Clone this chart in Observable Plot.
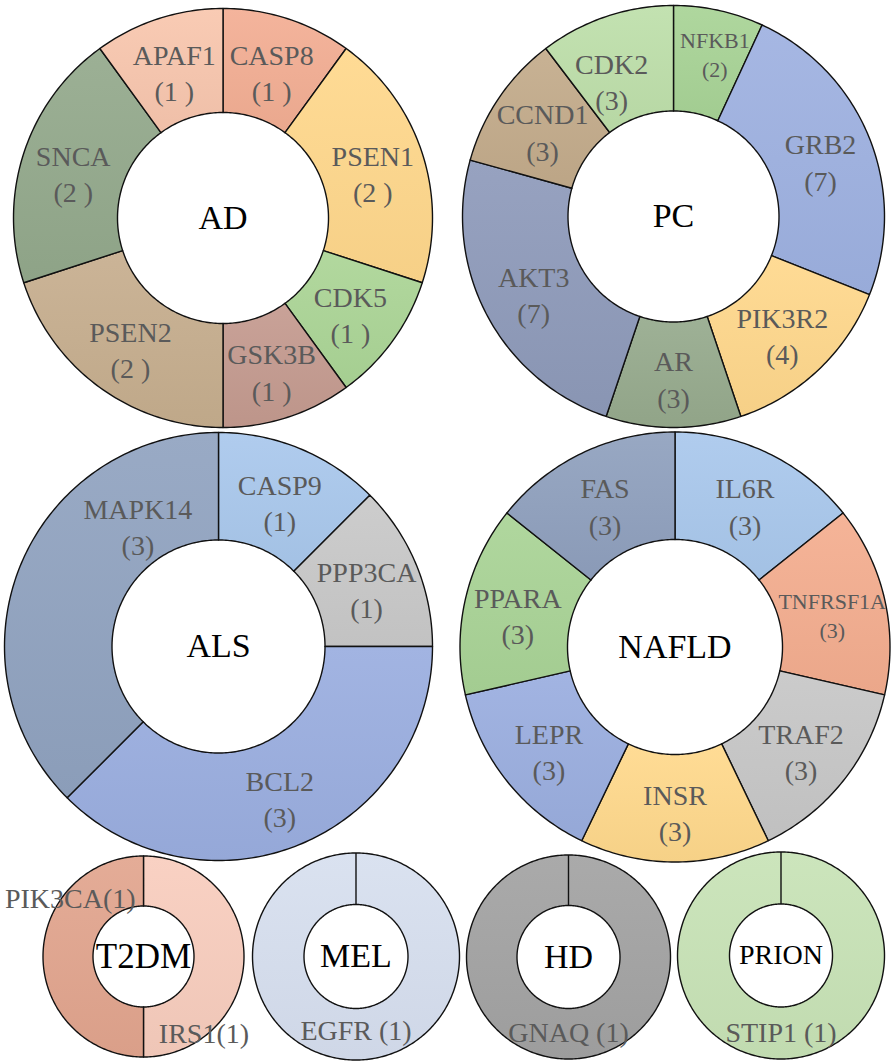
<!DOCTYPE html>
<html><head><meta charset="utf-8">
<script src="https://cdn.jsdelivr.net/npm/d3@7"></script>
<script src="https://cdn.jsdelivr.net/npm/@observablehq/plot@0.6"></script>
<style>
html,body{margin:0;padding:0;background:#fff;overflow:hidden;}
svg text{font-family:"Liberation Serif","Times New Roman","DejaVu Serif",serif !important;}
</style>
</head><body><div id="chart"></div>
<script>
// ---------- data ----------
const groups = ["AD", "PC", "ALS", "NAFLD", "T2DM", "MEL", "HD", "PRION"];
const adGenes = ["CASP8", "PSEN1", "CDK5", "GSK3B", "PSEN2", "SNCA", "APAF1"];
const adCounts = [1, 2, 1, 1, 2, 2, 1];
const pcGenes = ["NFKB1", "GRB2", "PIK3R2", "AR", "AKT3", "CCND1", "CDK2"];
const pcCounts = [2, 7, 4, 3, 7, 3, 3];
const alsGenes = ["CASP9", "PPP3CA", "BCL2", "MAPK14"];
const alsCounts = [1, 1, 3, 3];
const nafldGenes = ["IL6R", "TNFRSF1A", "TRAF2", "INSR", "LEPR", "PPARA", "FAS"];
const nafldCounts = [3, 3, 3, 3, 3, 3, 3];
const t2dmGenes = ["IRS1", "PIK3CA"];
const t2dmCounts = [1, 1];
const melGenes = ["EGFR"];
const melCounts = [1];
const hdGenes = ["GNAQ"];
const hdCounts = [1];
const prionGenes = ["STIP1"];
const prionCounts = [1];

// ---------- layout & style (not data) ----------
const layout = {
  AD:    {cx: 222.5, cy: 217.5, R: 209.5, r: 105.5, fmt: (g, n) => `${g}\n(${n} )`, title: 34},
  PC:    {cx: 673,   cy: 216,   R: 211,   r: 105.5, fmt: (g, n) => `${g}\n(${n})`, title: 34},
  ALS:   {cx: 218,   cy: 646,   R: 214,   r: 106.5, fmt: (g, n) => `${g}\n(${n})`, title: 34},
  NAFLD: {cx: 674.5, cy: 646.5, R: 215,   r: 107.5, fmt: (g, n) => `${g}\n(${n})`, title: 34},
  T2DM:  {cx: 143,   cy: 956,   R: 100.5, r: 50.5,  fmt: (g, n) => `${g}(${n})`, title: 35},
  MEL:   {cx: 355.5, cy: 956,   R: 103.5, r: 52,    fmt: (g, n) => `${g} (${n})`, title: 34},
  HD:    {cx: 568,   cy: 956.5, R: 102,   r: 51.5,  fmt: (g, n) => `${g} (${n})`, title: 34},
  PRION: {cx: 780.5, cy: 955,   R: 103.5, r: 51.5,  fmt: (g, n) => `${g} (${n})`, title: 28}
};
const colors = {
  CASP8: "#F3AE93", PSEN1: "#FFD88C", CDK5: "#ABD596", GSK3B: "#C49A8F", PSEN2: "#C6AE8E", SNCA: "#93A98C", APAF1: "#F8C6AE",
  NFKB1: "#A8D396", GRB2: "#9EB1E1", PIK3R2: "#FFD88C", AR: "#96AA8D", AKT3: "#8E9ABA", CCND1: "#C3AB8B", CDK2: "#BEDFAA",
  CASP9: "#A9C8EC", PPP3CA: "#C9C9C9", BCL2: "#9AAEE0", MAPK14: "#90A3C0",
  IL6R: "#A9C8EC", TNFRSF1A: "#F4AD8F", TRAF2: "#C7C7C7", INSR: "#FFD98C", LEPR: "#9AAEDF", PPARA: "#A9D396", FAS: "#8FA0BE",
  IRS1: "#F8CDBE", PIK3CA: "#E2A58E", EGFR: "#D7DFEF", GNAQ: "#A3A3A3", STIP1: "#C8E3B6"
};
// label placement tweaks: angle in degrees (clockwise from top), radius in px
const labelTweaks = {
  "ALS/MAPK14": {angle: 327, radius: 148},
  "PC/CDK2": {angle: 336, radius: 152},
  "PC/NFKB1": {angle: 14, radius: 171},
  "T2DM/PIK3CA": {angle: 311, radius: 97},
  "T2DM/IRS1": {angle: 140, radius: 94},
  "MEL/EGFR": {angle: 180, radius: 69},
  "HD/GNAQ": {angle: 180, radius: 70},
  "PRION/STIP1": {angle: 180, radius: 72}
};
const labelSizes = {NFKB1: 22, TNFRSF1A: 22};

const series = {
  AD: [adGenes, adCounts], PC: [pcGenes, pcCounts], ALS: [alsGenes, alsCounts], NAFLD: [nafldGenes, nafldCounts],
  T2DM: [t2dmGenes, t2dmCounts], MEL: [melGenes, melCounts], HD: [hdGenes, hdCounts], PRION: [prionGenes, prionCounts]
};

// ---------- build geometry through d3.pie ----------
const points = [];
const labels = [];
const gradients = [];
const pie = d3.pie().sort(null).value(d => d.count).startAngle(0).endAngle(2 * Math.PI);
groups.forEach(grp => {
  const [genes, counts] = series[grp];
  const L = layout[grp];
  const arcs = pie(genes.map((g, i) => ({gene: g, count: counts[i]})));
  arcs.forEach((a, i) => {
    const key = `${grp}/${a.data.gene}`;
    const gid = `grad${gradients.length}`;
    gradients.push({id: gid, color: colors[a.data.gene]});
    const n = Math.max(2, Math.ceil((a.endAngle - a.startAngle) / (Math.PI / 180)));
    for (let k = 0; k <= n; k++) {
      const t = a.startAngle + (a.endAngle - a.startAngle) * k / n;
      points.push({key, fill: `url(#${gid})`, x: L.cx + L.R * Math.sin(t), y: L.cy - L.R * Math.cos(t)});
    }
    for (let k = n; k >= 0; k--) {
      const t = a.startAngle + (a.endAngle - a.startAngle) * k / n;
      points.push({key, fill: `url(#${gid})`, x: L.cx + L.r * Math.sin(t), y: L.cy - L.r * Math.cos(t)});
    }
    const tw = labelTweaks[key];
    const mid = tw ? tw.angle * Math.PI / 180 : (a.startAngle + a.endAngle) / 2;
    const rad = tw ? tw.radius : (L.R + L.r) / 2;
    labels.push({
      x: L.cx + rad * Math.sin(mid), y: L.cy - rad * Math.cos(mid) + 3,
      text: L.fmt(a.data.gene, a.data.count),
      size: labelSizes[a.data.gene] || 28
    });
  });
});
const titles = groups.map(g => ({name: g, x: layout[g].cx, y: layout[g].cy, size: layout[g].title}));

const font = "Liberation Serif";
const chart = Plot.plot({
  width: 894, height: 1063,
  margin: 0,
  x: {domain: [0, 894], axis: null},
  y: {domain: [0, 1063], reverse: true, axis: null},
  color: {type: "identity"},
  style: {background: "#fff"},
  marks: [
    Plot.line(points, {x: "x", y: "y", z: "key", fill: "fill", stroke: "#111", strokeWidth: 1.4, curve: "linear-closed"}),
    Plot.text(labels, {x: "x", y: "y", text: "text", fontSize: d => d.size, lineHeight: 1.3, fill: "#5a5a5a", fontFamily: font}),
    Plot.text(titles, {x: "x", y: "y", text: "name", fontSize: d => d.size, fill: "#000", fontFamily: font})
  ]
});

// gradient paint servers (style only)
const defs = d3.select(chart).insert("defs", ":first-child");
gradients.forEach(g => {
  const lg = defs.append("linearGradient").attr("id", g.id).attr("x1", 0).attr("y1", 0).attr("x2", 0).attr("y2", 1);
  lg.append("stop").attr("offset", "0%").attr("stop-color", d3.interpolateRgb(g.color, "#fff")(0.08));
  lg.append("stop").attr("offset", "100%").attr("stop-color", d3.color(g.color).darker(0.1).formatHex());
});
document.getElementById("chart").appendChild(chart);
</script></body></html>
